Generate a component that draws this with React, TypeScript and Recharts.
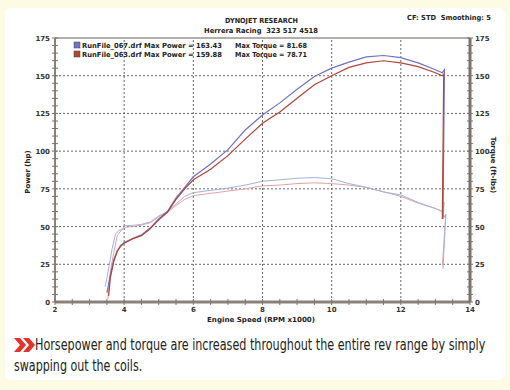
import { useLayoutEffect, useRef, useState } from 'react';
import { LineChart, Line, XAxis, YAxis, ReferenceLine } from 'recharts';

// engine speed (x1000 rpm) and readings
const powerRpm067 = [3.5, 3.6, 3.7, 3.8, 3.9, 4.0, 4.25, 4.5, 4.75, 5.0, 5.25, 5.5, 5.75, 6.0, 6.5, 7.0, 7.5, 8.0, 8.5, 9.0, 9.5, 10.0, 10.5, 11.0, 11.5, 12.0, 12.5, 13.0, 13.2, 13.26, 13.22];
const power067 = [6, 18, 28, 34, 37.5, 39.5, 42, 44.5, 49, 55, 60, 69, 76, 83, 91.5, 101, 114, 124, 132, 141, 149.5, 155, 159, 162.5, 163.4, 162, 158.5, 154, 152, 154, 56];

const powerRpm063 = [3.55, 3.6, 3.7, 3.8, 3.9, 4.0, 4.25, 4.5, 4.75, 5.0, 5.25, 5.5, 5.75, 6.0, 6.5, 7.0, 7.5, 8.0, 8.5, 9.0, 9.5, 10.0, 10.5, 11.0, 11.5, 12.0, 12.5, 13.0, 13.2, 13.24, 13.2];
const power063 = [4, 16, 27, 33.5, 37, 39, 42, 44, 48.5, 54.5, 59.5, 68, 75, 81, 88, 97, 108, 118.5, 126, 135, 144, 150, 155.5, 158.5, 159.9, 158.5, 156, 152, 150, 151, 55];

const torqueRpm067 = [3.45, 3.55, 3.65, 3.75, 3.85, 3.95, 4.0, 4.25, 4.5, 4.75, 5.0, 5.25, 5.5, 5.75, 6.0, 6.5, 7.0, 7.5, 8.0, 8.5, 9.0, 9.5, 10.0, 10.5, 11.0, 11.5, 12.0, 12.5, 13.0, 13.2, 13.25, 13.22, 13.3, 13.22];
const torque067 = [10, 22, 35, 45, 47.5, 48, 50.5, 50.8, 51.5, 53, 57, 60, 65, 70, 72.5, 74, 75.5, 77.5, 80, 81, 82, 82.5, 81.7, 78.5, 76, 73, 71, 66, 62, 60, 66, 55, 58, 22];

const torqueRpm063 = [3.53, 3.6, 3.7, 3.8, 3.9, 4.0, 4.25, 4.5, 4.75, 5.0, 5.25, 5.5, 5.75, 6.0, 6.5, 7.0, 7.5, 8.0, 8.5, 9.0, 9.5, 10.0, 10.5, 11.0, 11.5, 12.0, 12.5, 13.0, 13.2, 13.24, 13.3, 13.2];
const torque063 = [2, 20, 33, 44, 47, 49.5, 50, 51, 52.5, 56.5, 59.5, 64, 68, 70.5, 72, 73.5, 75, 77, 77.5, 78.5, 79, 78.5, 77.5, 76, 73, 70, 65.5, 62, 60, 56, 58, 24];

const xTicks = [2, 2.5, 3, 3.5, 4, 4.5, 5, 5.5, 6, 6.5, 7, 7.5, 8, 8.5, 9, 9.5, 10, 10.5, 11, 11.5, 12, 12.5, 13, 13.5, 14];
const xGrid = [4, 6, 8, 10, 12];
const yTicks = [0, 5, 10, 15, 20, 25, 30, 35, 40, 45, 50, 55, 60, 65, 70, 75, 80, 85, 90, 95, 100, 105, 110, 115, 120, 125, 130, 135, 140, 145, 150, 155, 160, 165, 170, 175];
const yGrid = [25, 50, 75, 100, 125, 150];

const runs = [
  { name: 'RunFile_067.drf', maxPower: '163.43', maxTorque: '81.68', color: '#6f73c4' },
  { name: 'RunFile_063.drf', maxPower: '159.88', maxTorque: '78.71', color: '#b3443a' },
];

const toRows = (xs: number[], vs: number[]) => xs.map((rpm, i) => ({ rpm, v: vs[i] }));

const labelFont = { fontFamily: 'DejaVu Sans, sans-serif', fontSize: 7, fontWeight: 700, fill: '#333' };

const LeftTick = ({ x, y, payload }: any) => (
  <g>
    <line x1={x - 3} x2={x + 3} y1={y} y2={y} stroke="#7d7470" strokeWidth={1} />
    {payload.value % 25 === 0 && (
      <text x={x - 5} y={y + 3} textAnchor="end" {...labelFont}>{payload.value}</text>
    )}
  </g>
);

const RightTick = ({ x, y, payload }: any) => (
  <g>
    <line x1={x - 3} x2={x + 3} y1={y} y2={y} stroke="#7d7470" strokeWidth={1} />
    {payload.value % 25 === 0 && (
      <text x={x + 5} y={y + 3} textAnchor="start" {...labelFont}>{payload.value}</text>
    )}
  </g>
);

const BottomTick = ({ x, y, payload }: any) => (
  <g>
    <line x1={x} x2={x} y1={y - 3} y2={y + 3} stroke="#7d7470" strokeWidth={1} />
    {payload.value % 2 === 0 && (
      <text x={x} y={y + 10} textAnchor="middle" {...labelFont}>{payload.value}</text>
    )}
  </g>
);

// caption line squeezed to the width it has in the magazine layout
const CaptionLine = ({ text, left, top, width }: { text: string; left: number; top: number; width: number }) => {
  const ref = useRef<HTMLDivElement>(null);
  const [scale, setScale] = useState(1);
  useLayoutEffect(() => {
    if (ref.current) {
      const w = ref.current.scrollWidth;
      if (w > 0) setScale(width / w);
    }
  }, [text, width]);
  return (
    <div
      ref={ref}
      style={{
        position: 'absolute',
        left,
        top,
        whiteSpace: 'nowrap',
        fontFamily: "'Liberation Sans Narrow', 'DejaVu Sans Condensed', sans-serif",
        fontSize: 16,
        lineHeight: '18px',
        color: '#222',
        transform: `scaleX(${scale})`,
        transformOrigin: 'left top',
      }}
    >
      {text}
    </div>
  );
};

export default function App() {
  return (
    <div style={{ position: 'absolute', left: 0, top: 0, width: 510, height: 390, background: '#fdfbe4' }}>
      <div style={{ position: 'absolute', left: 5, top: 8, width: 500, height: 372, background: '#fff', borderRadius: 6 }} />
      <div style={{ position: 'absolute', left: 0, top: 0 }}>
        <LineChart width={510} height={330} margin={{ top: 38, right: 0, bottom: 0, left: 0 }}>
          <XAxis
            dataKey="rpm"
            type="number"
            domain={[2, 14]}
            ticks={xTicks}
            interval={0}
            height={28}
            tickSize={0}
            tickMargin={0}
            tickLine={false}
            tick={<BottomTick />}
            axisLine={{ stroke: '#8a807c', strokeWidth: 3 }}
          />
          <YAxis
            yAxisId="left"
            type="number"
            domain={[0, 175]}
            ticks={yTicks}
            interval={0}
            width={55}
            tickSize={0}
            tickMargin={0}
            tickLine={false}
            tick={<LeftTick />}
            axisLine={{ stroke: '#8a807c', strokeWidth: 2 }}
          />
          <YAxis
            yAxisId="right"
            orientation="right"
            type="number"
            domain={[0, 175]}
            ticks={yTicks}
            interval={0}
            width={40}
            tickSize={0}
            tickMargin={0}
            tickLine={false}
            tick={<RightTick />}
            axisLine={{ stroke: '#7a716d', strokeWidth: 3 }}
          />
          {yGrid.map((v) => (
            <ReferenceLine key={'h' + v} yAxisId="left" y={v} stroke="#666" strokeDasharray="2 2" strokeWidth={1} />
          ))}
          {xGrid.map((v) => (
            <ReferenceLine key={'v' + v} yAxisId="left" x={v} stroke="#666" strokeDasharray="2 2" strokeWidth={1} />
          ))}
          <ReferenceLine yAxisId="left" y={175} stroke="#9a9290" strokeWidth={1.5} />
          <Line yAxisId="right" data={toRows(torqueRpm063, torque063)} dataKey="v" type="linear" stroke="#e2a3a6" strokeWidth={1} dot={false} isAnimationActive={false} />
          <Line yAxisId="right" data={toRows(torqueRpm067, torque067)} dataKey="v" type="linear" stroke="#a3b3de" strokeWidth={1} dot={false} isAnimationActive={false} />
          <Line yAxisId="left" data={toRows(powerRpm067, power067)} dataKey="v" type="linear" stroke="#6f73c4" strokeWidth={1.2} dot={false} isAnimationActive={false} />
          <Line yAxisId="left" data={toRows(powerRpm063, power063)} dataKey="v" type="linear" stroke="#b3443a" strokeWidth={1.2} dot={false} isAnimationActive={false} />
        </LineChart>
      </div>
      <svg width={510} height={390} style={{ position: 'absolute', left: 0, top: 0, pointerEvents: 'none' }}>
        <g fontFamily="DejaVu Sans, sans-serif" fontWeight={700} fontSize={7} fill="#222">
          <text x={225} y={23} textLength={73} lengthAdjust="spacingAndGlyphs">DYNOJET RESEARCH</text>
          <text x={204} y={33} textLength={114} lengthAdjust="spacingAndGlyphs" xmlSpace="preserve">Herrera Racing  323 517 4518</text>
          <text x={407} y={20} textLength={84} lengthAdjust="spacingAndGlyphs" xmlSpace="preserve">CF: STD  Smoothing: 5</text>
          {runs.map((r, i) => (
            <g key={r.name}>
              <rect x={74} y={42 + i * 9} width={6} height={6} fill={r.color} stroke="#444" strokeWidth={0.5} />
              <text x={82} y={48 + i * 9} textLength={140} lengthAdjust="spacingAndGlyphs">{`${r.name} Max Power = ${r.maxPower}`}</text>
              <text x={235} y={48 + i * 9} textLength={72} lengthAdjust="spacingAndGlyphs">{`Max Torque = ${r.maxTorque}`}</text>
            </g>
          ))}
          <text x={207} y={322} textLength={108} lengthAdjust="spacingAndGlyphs">Engine Speed (RPM x1000)</text>
          <text transform="translate(30,172) rotate(-90)" textAnchor="middle">Power (hp)</text>
          <text transform="translate(491,165) rotate(90)" textAnchor="middle">Torque (ft-lbs)</text>
        </g>
        <polygon points="14,338 20,338 26,345 20,352 14,352 20,345" fill="#e5322b" />
        <polygon points="23,338 29,338 35,345 29,352 23,352 29,345" fill="#e5322b" />
      </svg>
      <CaptionLine text="Horsepower and torque are increased throughout the entire rev range by simply" left={35} top={336} width={450} />
      <CaptionLine text="swapping out the coils." left={14} top={357} width={128} />
    </div>
  );
}
